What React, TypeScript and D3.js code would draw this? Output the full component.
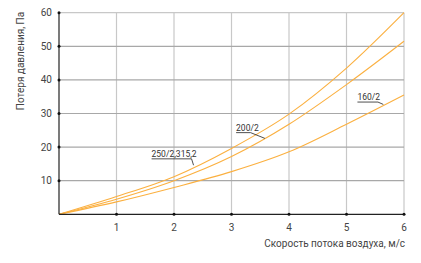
import React from "react";
import * as d3 from "d3";

const speeds = [0, 1, 2, 3, 4, 5, 6];
const series250_315 = [0, 5.3, 11.2, 19.6, 29.8, 43.5, 60];
const series200 = [0, 4.5, 10, 17.2, 26.8, 38.6, 51.5];
const series160 = [0, 3.7, 8, 12.7, 18.6, 26.8, 35.5];
const xTicks = [1, 2, 3, 4, 5, 6];
const yTicks = [10, 20, 30, 40, 50, 60];
const seriesLabels = ["250/2,315,2", "200/2", "160/2"];
const xTitle = "Скорость потока воздуха, м/с";
const yTitle = "Потеря давления, Па";

const W = 421;
const H = 263;
const FONT = "'Liberation Sans Narrow', 'Roboto', sans-serif";
const ORANGE = "#fbb040";

export default function App() {
  const x = d3.scaleLinear().domain([0, 6]).range([59, 404]);
  const y = d3.scaleLinear().domain([0, 60]).range([214.3, 12.7]);
  const line = d3
    .line<number>()
    .x((_, i) => x(speeds[i]))
    .y((d) => y(d))
    .curve(d3.curveMonotoneX);
  const series = [series250_315, series200, series160];

  // annotation placement in data coordinates [textX, textY, endX, endY]
  const ann: [number, number, number, number][] = [
    [1.61, 17.1, 2.34, 14.6],
    [3.08, 24.9, 3.58, 22.6],
    [5.19, 34.0, 5.64, 32.7],
  ];
  const labelWidths = [38, 12.5, 18.5];

  return (
    <svg
      width={W}
      height={H}
      style={{ position: "absolute", left: 0, top: 0, background: "#fff" }}
      fontFamily={FONT}
    >
      {/* vertical grid */}
      {xTicks.map((t) => (
        <line key={"vx" + t} x1={x(t)} x2={x(t)} y1={y(60)} y2={y(0)} stroke="#c8c8c8" strokeWidth={1.2} />
      ))}
      {/* horizontal grid */}
      {yTicks.map((t) => (
        <line
          key={"hy" + t}
          x1={x(0)}
          x2={x(6)}
          y1={y(t)}
          y2={y(t)}
          stroke={t === 60 ? "#c8c8c8" : "#a8a8a8"}
          strokeWidth={1.2}
        />
      ))}
      {/* curves */}
      {series.map((s, i) => (
        <path key={"s" + i} d={line(s) || ""} fill="none" stroke={ORANGE} strokeWidth={1.1} />
      ))}
      {/* axes */}
      <line x1={x(0)} x2={x(0)} y1={y(60)} y2={y(0)} stroke="#222" strokeWidth={1.2} />
      <line x1={x(0)} x2={x(6)} y1={y(0)} y2={y(0)} stroke="#222" strokeWidth={1.2} />
      {xTicks.map((t) => (
        <circle key={"dx" + t} cx={x(t)} cy={y(0)} r={1.5} fill="#111" />
      ))}
      {yTicks.map((t) => (
        <circle key={"dy" + t} cx={x(0)} cy={y(t)} r={1.5} fill="#111" />
      ))}
      {/* tick labels */}
      {xTicks.map((t) => (
        <text key={"tx" + t} x={x(t)} y={230.5} fontSize={10} fill="#444" textAnchor="middle">
          {t}
        </text>
      ))}
      {yTicks.map((t) => (
        <text key={"ty" + t} x={52} y={y(t) + 3.5} fontSize={10} fill="#444" textAnchor="end">
          {t}
        </text>
      ))}
      {/* axis titles */}
      <text x={405} y={246.5} fontSize={10} fill="#444" textAnchor="end">
        {xTitle}
      </text>
      <text
        transform={`translate(23.5,61) rotate(-90)`}
        fontSize={10}
        fill="#444"
        textAnchor="middle"
      >
        {yTitle}
      </text>
      {/* annotations */}
      {ann.map((a, i) => {
        const tx = x(a[0]);
        const ty = y(a[1]);
        const w = labelWidths[i];
        return (
          <g key={"a" + i}>
            <text x={tx} y={ty} fontSize={8.5} fill="#333">
              {seriesLabels[i]}
            </text>
            <path
              d={`M${tx},${ty + 2}L${tx + w + 2},${ty + 2}L${x(a[2])},${y(a[3])}`}
              fill="none"
              stroke="#222"
              strokeWidth={0.8}
            />
          </g>
        );
      })}
    </svg>
  );
}
